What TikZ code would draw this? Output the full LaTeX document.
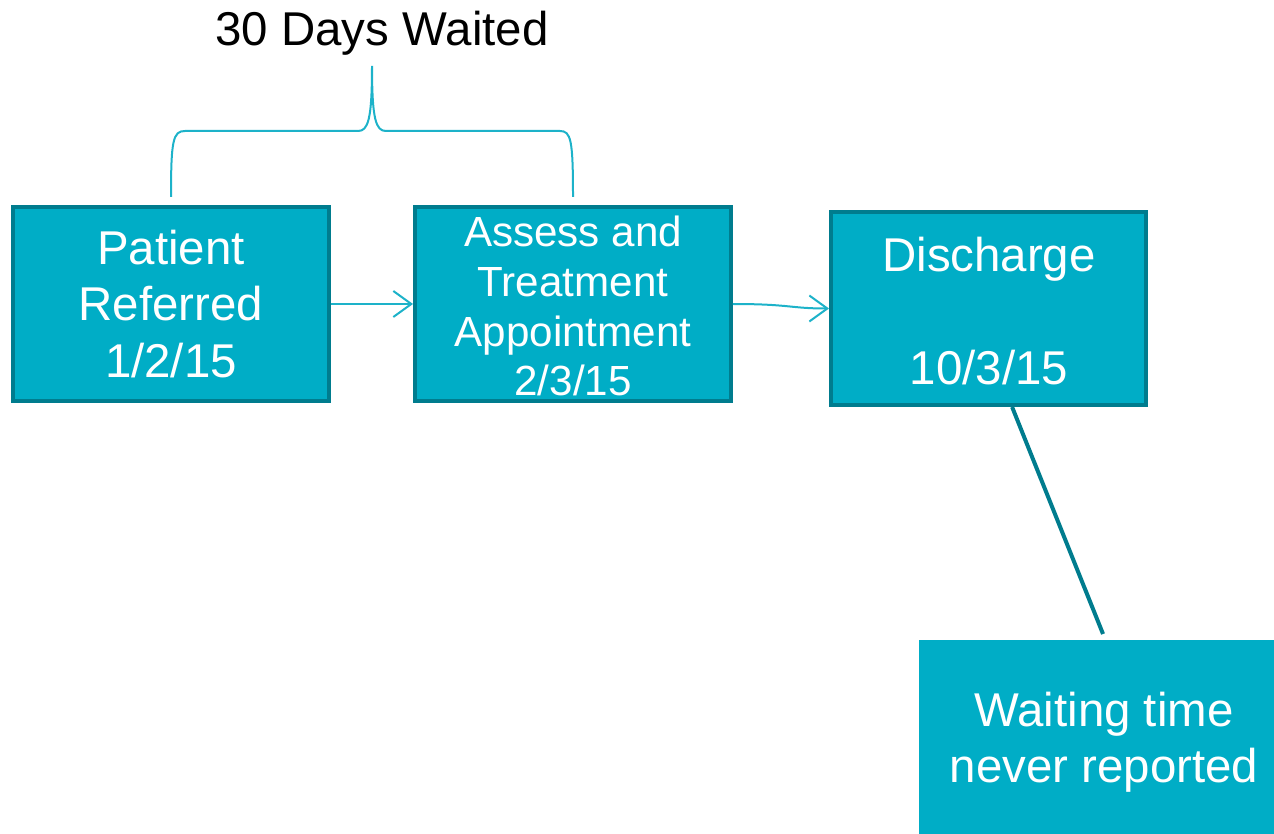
\documentclass[tikz,border=0pt]{standalone}
\usepackage{fontspec}
\setmainfont{Liberation Sans}
\usetikzlibrary{arrows.meta,calc}
\definecolor{boxfill}{HTML}{00ADC6}
\definecolor{boxedge}{HTML}{007C8E}
\definecolor{bracec}{HTML}{1DB2C9}
\tikzset{
  stepbox/.style={draw=boxedge, fill=boxfill, line width=0.08cm, text=white, align=center, inner sep=0pt},
  notebox/.style={fill=boxfill, text=white, align=center, inner sep=0pt},
  bigtext/.style={font=\fontsize{27}{32}\selectfont},
  midtext/.style={font=\fontsize{24}{28.4}\selectfont},
  conn/.style={draw=bracec, line width=0.04cm, -{Straight Barb[length=0.36cm,width=0.52cm]}},
  bracepath/.style={draw=bracec, line width=0.04cm},
  callout/.style={draw=boxedge, line width=0.08cm}
}
\begin{document}
\begin{tikzpicture}[x=0.02cm,y=-0.02cm]
\useasboundingbox (0,0) rectangle (1274,834);
\node[bigtext, text=black] (title) at (382,33) {30 Days Waited};
\node[stepbox, bigtext, minimum width=6.32cm, minimum height=3.88cm] (b1) at (171,304) {Patient\\Referred\\1/2/15};
\node[stepbox, minimum width=6.32cm, minimum height=3.88cm] (b2) at (573,304) {};
\node[midtext, text=white, align=center] (b2t) at (573,306) {Assess and\\Treatment\\Appointment\\2/3/15};
\node[stepbox, minimum width=6.3cm, minimum height=3.86cm] (b3) at (988.5,308.5) {};
\node[bigtext, text=white, align=center] (b3t) at (989,311) {Discharge\\\mbox{}\\10/3/15};
\node[notebox, minimum width=7.1cm, minimum height=3.88cm] (b4) at (1096.5,737) {};
\node[bigtext, text=white, align=center] (b4t) at (1104,742) {Waiting time\\never reported};
% brace
\coordinate (bl) at (171,197);
\coordinate (br) at (573,197);
\coordinate (bt) at (372,66);
\draw[bracepath] (bl) .. controls (171,140) and (173,131) .. (185,131) -- (358,131)
  .. controls (368,131) and (372,120) .. (bt)
  .. controls (372,120) and (376,131) .. (386,131) -- (560,131)
  .. controls (571,131) and (573,140) .. (br);
% arrows
\draw[conn] (b1.east) -- (b2.west);
\draw[conn] (b2.east) .. controls (790,304) and (790,308.5) .. (b3.west);
% callout line
\coordinate (lt) at ($(b3.south west)!0.574!(b3.south east)$);
\coordinate (lb) at (1103,634);
\draw[callout] (lt) -- (lb);
\end{tikzpicture}
\end{document}
